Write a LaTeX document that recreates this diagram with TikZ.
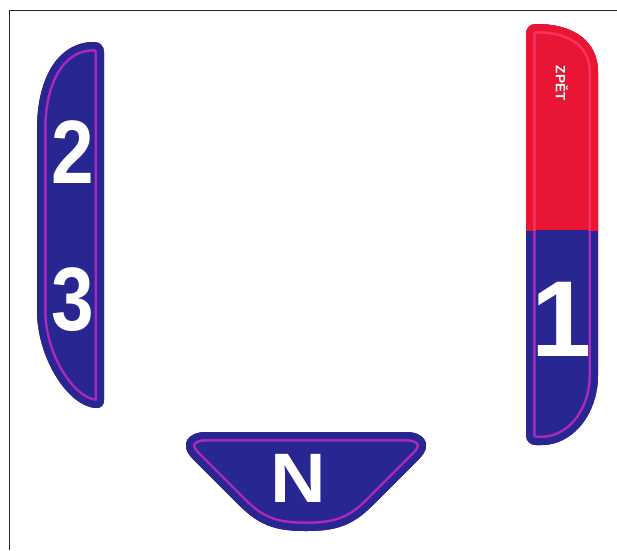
\documentclass[tikz,border=0pt]{standalone}
\usepackage{fontspec}
\setmainfont{Liberation Sans}
\definecolor{navy}{RGB}{40,38,145}
\definecolor{mag}{RGB}{175,40,190}
\definecolor{gred}{RGB}{232,22,52}
\definecolor{pinkred}{RGB}{246,52,98}
\begin{document}
\begin{tikzpicture}[x=1pt,y=-1pt,
  digit/.style={text=white,inner sep=0pt,font=\bfseries\fontsize{90}{90}\selectfont},
  frameline/.style={line width=1.3pt,black!85},
  outband/.style={line width=19pt},
  inband/.style={line width=14pt}]
\useasboundingbox (0,0) rectangle (617,550);
\draw[frameline] (9.5,550) -- (9.5,10.5) -- (617,10.5);

% left plate (2 / 3)
\def\pL{(104,52) .. controls (104,46) and (100,42) .. (94,42) .. controls (60,42) and (37,75) .. (37,130) -- (37,310) .. controls (37,360) and (70,408) .. (97,408) .. controls (101,408) and (104,405) .. (104,400) -- cycle}
\begin{scope}
  \clip \pL;
  \fill[navy] \pL;
  \draw[mag,outband] \pL;
  \draw[navy,inband] \pL;
\end{scope}
\node[digit,xscale=0.85] (two) at (73,152) {2};
\node[digit,xscale=0.85] (three) at (73,300) {3};

% right plate (ZPET / 1)
\def\pR{(526,34) .. controls (526,28) and (530,24) .. (536,24) .. controls (575,24) and (598,42) .. (598,72) -- (598,375) .. controls (598,415) and (572,445) .. (542,445) -- (536,445) .. controls (530,445) and (526,441) .. (526,435) -- cycle}
\begin{scope}
  \clip \pR;
  \fill[navy] \pR;
  \fill[gred] (500,0) rectangle (620,230);
  \begin{scope}
    \clip (500,230) rectangle (620,460);
    \draw[mag,outband] \pR;
    \draw[navy,inband] \pR;
  \end{scope}
  \begin{scope}
    \clip (500,0) rectangle (620,230);
    \draw[pinkred,outband] \pR;
    \draw[gred,inband] \pR;
  \end{scope}
\end{scope}
\node[text=white,inner sep=0pt,rotate=-90,font=\bfseries\fontsize{13.5}{14}\selectfont] (zpet) at (562,83) {ZPĚT};
\node[digit,font=\bfseries\fontsize{108}{108}\selectfont] (one) at (562,319) {1};

% bottom plate (N)
\def\pN{(206,432) -- (406,432) .. controls (424,432) and (433,444) .. (420,458) -- (372,506) .. controls (352,526) and (335,531) .. (306,531) .. controls (277,531) and (260,526) .. (240,506) -- (192,458) .. controls (179,444) and (188,432) .. (206,432) -- cycle}
\begin{scope}
  \clip \pN;
  \fill[navy] \pN;
  \draw[mag,outband] \pN;
  \draw[navy,inband] \pN;
\end{scope}
\node[digit,font=\bfseries\fontsize{70}{70}\selectfont,xscale=1.1] (n) at (298,478) {N};
\end{tikzpicture}
\end{document}
